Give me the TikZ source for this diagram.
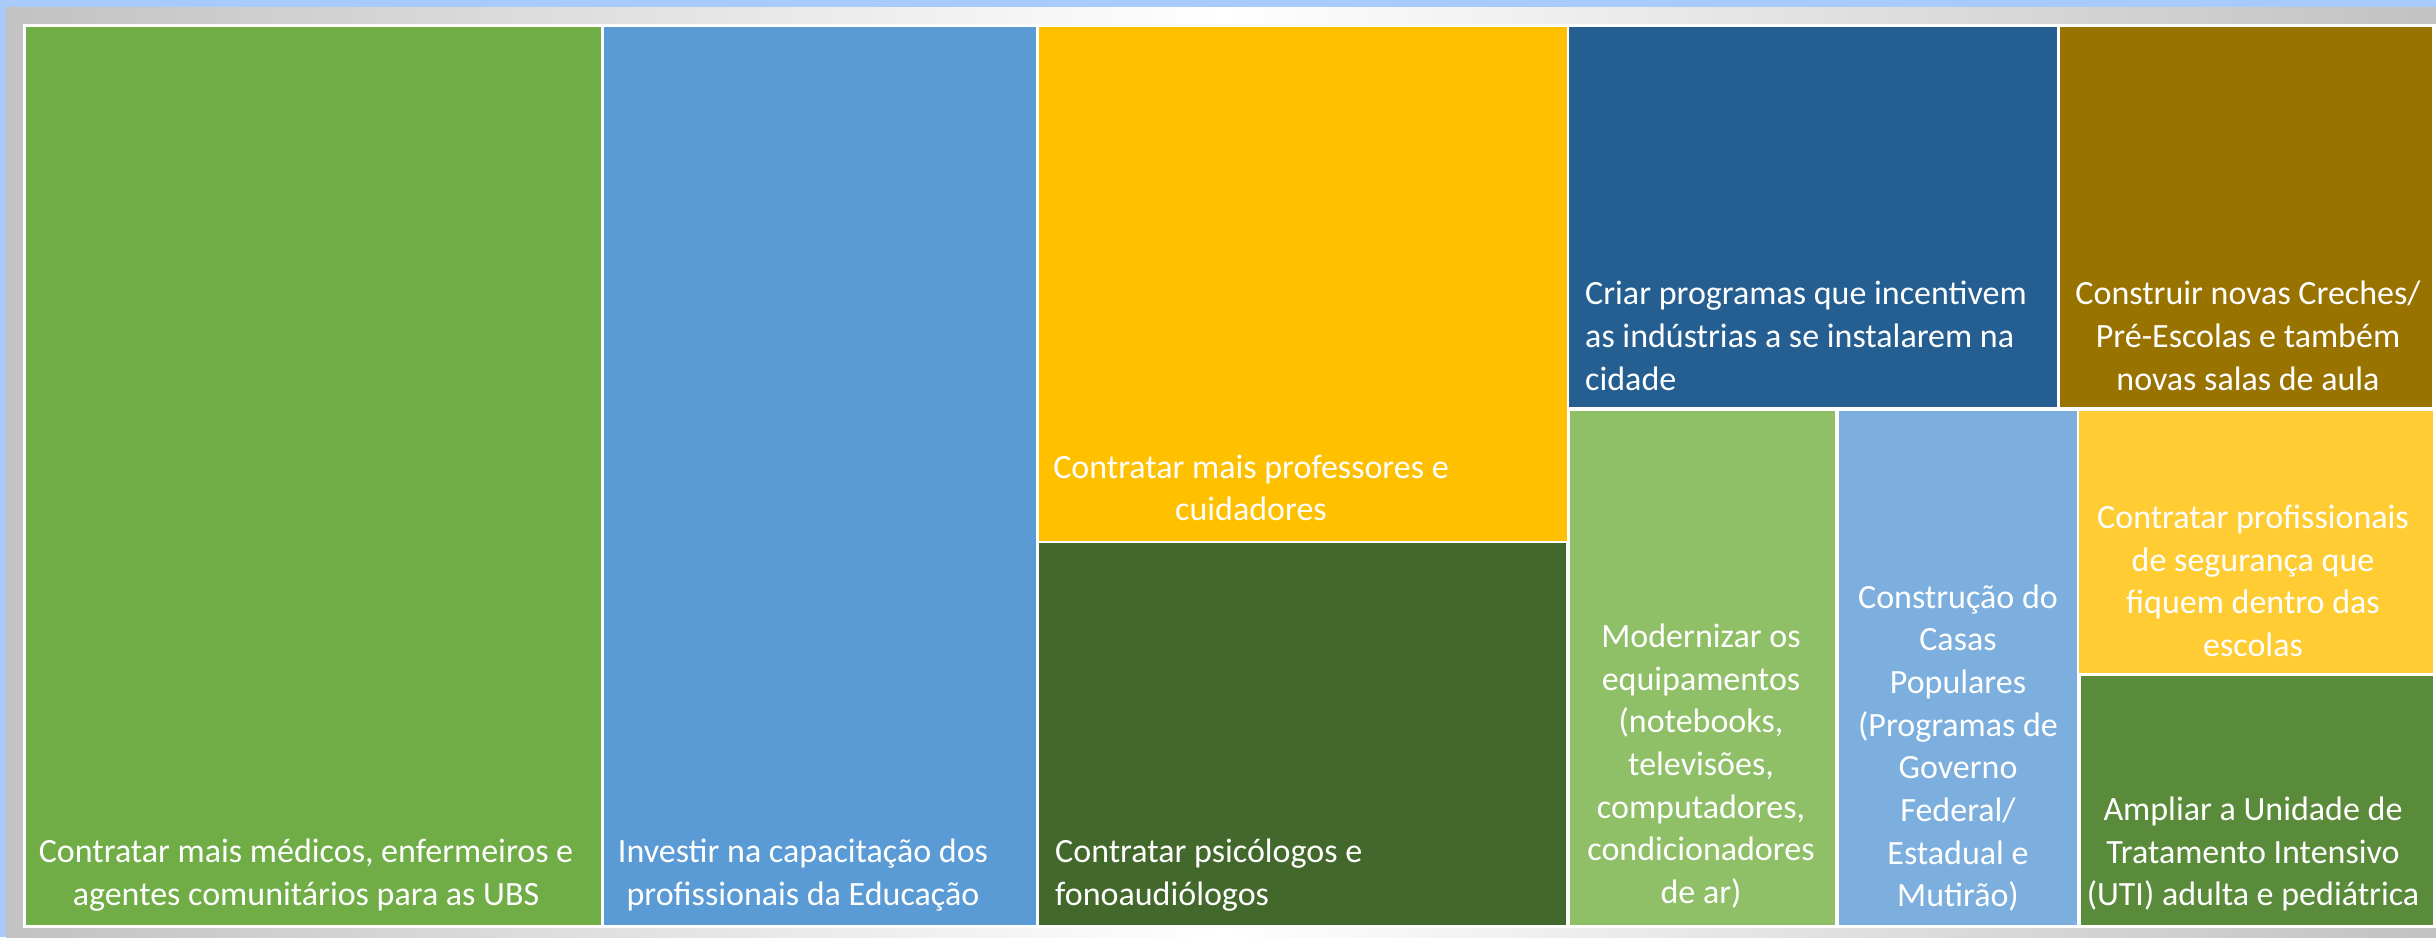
\documentclass[tikz,border=0pt]{standalone}
\usepackage{fontspec}
\setmainfont{Carlito}
\definecolor{bgblue}{HTML}{A9CBF9}
\definecolor{frgray}{HTML}{C2C2C2}
\definecolor{cGreenA}{HTML}{70AD47}
\definecolor{cBlueA}{HTML}{5B9BD5}
\definecolor{cYellowA}{HTML}{FFC000}
\definecolor{cGreenDark}{HTML}{43682B}
\definecolor{cBlueDark}{HTML}{255E91}
\definecolor{cBrown}{HTML}{997300}
\definecolor{cGreenLight}{HTML}{8FC067}
\definecolor{cBlueLight}{HTML}{7CAFDD}
\definecolor{cYellowLight}{HTML}{FFCD33}
\definecolor{cGreenMid}{HTML}{5A8B3B}
\tikzset{
  lbl/.style={text=white, inner sep=0pt, align=center, font=\fontsize{34}{42.7}\selectfont},
  lbll/.style={lbl, align=left, anchor=west}
}
\begin{document}
\begin{tikzpicture}[x=1pt,y=-1pt]
\useasboundingbox (0,0) rectangle (2436,937);
\fill[bgblue] (0,0) rectangle (2436,937);
\shade[left color=frgray, right color=frgray, middle color=white] (6,7) rectangle (2436,937);
\fill[white] (23,24) rectangle (2436,928);
% tiles
\fill[cGreenA] (26,27) rectangle (601,925);
\fill[cBlueA] (604,27) rectangle (1036,925);
\fill[cYellowA] (1039,27) rectangle (1567,541);
\fill[cGreenDark] (1039,543) rectangle (1566,925);
\fill[cBlueDark] (1569,27) rectangle (2057,407);
\fill[cBrown] (2060,27) rectangle (2432,407);
\fill[cGreenLight] (1570,411) rectangle (1835,925);
\fill[cBlueLight] (1839,411) rectangle (2077,925);
\fill[cYellowLight] (2079,411) rectangle (2433,673);
\fill[cGreenMid] (2081,676) rectangle (2433,925);
% labels
\node[lbl] (t1) at (306,875) {Contratar mais médicos, enfermeiros e\\agentes comunitários para as UBS};
\node[lbl] (t2) at (803,875) {Investir na capacitação dos\\profissionais da Educação};
\node[lbl] (t3) at (1251,488) {Contratar mais professores e\\cuidadores};
\node[lbll] (t4) at (1055,875) {Contratar psicólogos e\\fonoaudiólogos};
\node[lbll] (t5) at (1585,336) {Criar programas que incentivem\\as indústrias a se instalarem na\\cidade};
\node[lbl] (t6) at (2248,336) {Construir novas Creches/\\Pré-Escolas e também\\novas salas de aula};
\node[lbl] (t7) at (1701,766) {Modernizar os\\equipamentos\\(notebooks,\\televisões,\\computadores,\\condicionadores\\de ar)};
\node[lbl] (t8) at (1958,748) {Construção do\\Casas\\Populares\\(Programas de\\Governo\\Federal/\\Estadual e\\Mutirão)};
\node[lbl] (t9) at (2253,581) {Contratar profissionais\\de segurança que\\fiquem dentro das\\escolas};
\node[lbl] (t10) at (2253,854) {Ampliar a Unidade de\\Tratamento Intensivo\\(UTI) adulta e pediátrica};
\end{tikzpicture}
\end{document}
